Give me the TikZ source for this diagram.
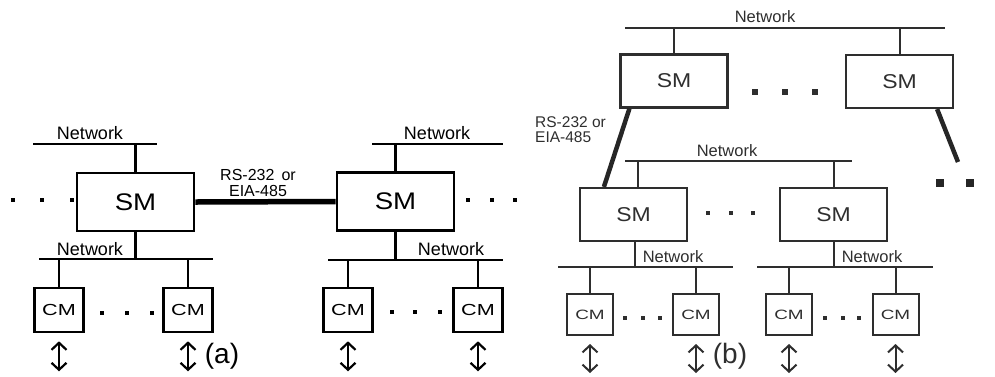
\documentclass[tikz,border=0pt]{standalone}
\usepackage{fontspec}
\setmainfont{Liberation Sans}
\usepackage{graphicx}
\usetikzlibrary{arrows.meta}
\definecolor{bgray}{gray}{0.18}
\tikzset{
  smbox/.style={draw, line width=2.6pt, minimum width=117pt, minimum height=58pt, inner sep=0pt},
  cmbox/.style={draw, line width=2.6pt, minimum width=49pt, minimum height=44pt, inner sep=0pt},
  smboxb/.style={draw=bgray, text=bgray, line width=2.2pt, minimum width=107pt, minimum height=53pt, inner sep=0pt},
  cmboxb/.style={draw=bgray, text=bgray, line width=2pt, minimum width=46pt, minimum height=41pt, inner sep=0pt},
  bus/.style={line width=2.2pt},
  busb/.style={line width=2pt, draw=bgray},
  link/.style={line width=2.4pt},
  linkb/.style={line width=2pt, draw=bgray},
  thick link/.style={line width=5.5pt},
  netlbl/.style={font=\fontsize{18}{18}\selectfont, inner sep=0pt},
  netlblb/.style={font=\fontsize{16.5}{16.5}\selectfont, text=bgray, inner sep=0pt},
  io/.style={line width=2.2pt, {Straight Barb[length=7pt,width=15pt]}-{Straight Barb[length=7pt,width=15pt]}},
  iob/.style={io, draw=bgray, line width=2pt},
  dota/.style={fill, minimum size=4.5pt, inner sep=0pt},
  dotb/.style={fill=bgray, minimum size=5.5pt, inner sep=0pt},
  dotc/.style={fill=bgray, minimum size=3.5pt, inner sep=0pt},
  dotbig/.style={fill=black!85, minimum size=8pt, inner sep=0pt},
}
\newcommand\smtxt{\scalebox{1.15}[1]{\fontsize{24}{24}\selectfont SM}}
\newcommand\smtxtb{\scalebox{1.15}[1]{\fontsize{20}{20}\selectfont SM}}
\newcommand\cmtxt{\scalebox{1.35}[1]{\fontsize{16}{16}\selectfont CM}}
\newcommand\cmtxtb{\scalebox{1.4}[1]{\fontsize{13.5}{13.5}\selectfont CM}}
\begin{document}
\begin{tikzpicture}[x=1pt,y=-1pt]
\useasboundingbox (0,0) rectangle (995,376);
% ================= (a) =================
\node[smbox] (sma1) at (135.5,202) {\smtxt};
\node[smbox] (sma2) at (395.5,201.5) {\smtxt};
% top buses
\coordinate (ta1l) at (33,144); \coordinate (ta1r) at (157,144);
\draw[bus] (ta1l) -- (ta1r);
\node[netlbl] (lta1) at (90,133) {Network};
\draw[link] (sma1.north) -- (sma1.north |- ta1l);
\coordinate (ta2l) at (372,144); \coordinate (ta2r) at (503,144);
\draw[bus] (ta2l) -- (ta2r);
\node[netlbl] (lta2) at (437,133) {Network};
\draw[link] (sma2.north) -- (sma2.north |- ta2l);
% serial link
\draw[thick link] (sma1.east) -- (sma2.west);
\node[font=\fontsize{16}{16}\selectfont, align=center, inner sep=0pt] (rsa) at (258,183) {RS-232\, or\\EIA-485};
% lower buses
\coordinate (ba1l) at (39,259); \coordinate (ba1r) at (213,259);
\draw[bus] (ba1l) -- (ba1r);
\node[netlbl] (lba1) at (90,249) {Network};
\draw[link] (sma1.south) -- (sma1.south |- ba1l);
\coordinate (ba2l) at (328,260); \coordinate (ba2r) at (503,260);
\draw[bus] (ba2l) -- (ba2r);
\node[netlbl] (lba2) at (451,249) {Network};
\draw[link] (sma2.south) -- (sma2.south |- ba2l);
% CMs
\node[cmbox] (cma1) at (59,310) {\cmtxt};
\node[cmbox] (cma2) at (188,310) {\cmtxt};
\node[cmbox] (cma3) at (348,310) {\cmtxt};
\node[cmbox] (cma4) at (478,310) {\cmtxt};
\foreach \c/\b in {cma1/ba1l, cma2/ba1l, cma3/ba2l, cma4/ba2l}
  \draw[link] (\c.north) -- (\c.north |- \b);
% io arrows
\foreach \c [count=\i] in {cma1,cma2,cma3,cma4} {
  \coordinate (ioa\i t) at ([yshift=-8pt]\c.south);
  \coordinate (ioa\i b) at ([yshift=-38pt]\c.south);
  \draw[io] (ioa\i t) -- (ioa\i b);
}
% dots
\foreach \x/\y [count=\i] in {13/200,42/200,72/200,468/200,492/200,515/200,102/313,127/313,152/313,392/312,415/312,440/312}
  \node[dota] (da\i) at (\x,\y) {};
\node[font=\fontsize{28}{28}\selectfont, inner sep=0pt] (capa) at (222,356) {(a)};
% ================= (b) =================
\coordinate (tbl) at (625,28); \coordinate (tbr) at (945,28);
\draw[busb] (tbl) -- (tbr);
\node[netlblb] (ltb) at (765,17) {Network};
\node[smboxb] (smb1) at (674,81) {\smtxtb};
\node[smboxb] (smb2) at (899.5,81.5) {\smtxtb};
\draw[linkb] (smb1.north) -- (smb1.north |- tbl);
\draw[linkb] (smb2.north) -- (smb2.north |- tbl);
\foreach \x [count=\i] in {755,785,815}
  \node[dotb] (db\i) at (\x,92) {};
% middle bus
\coordinate (mbl) at (625,161); \coordinate (mbr) at (852,161);
\draw[busb] (mbl) -- (mbr);
\node[netlblb] (lmb) at (727,151) {Network};
\node[smboxb] (smb3) at (633.5,214.5) {\smtxtb};
\node[smboxb] (smb4) at (833.5,214.5) {\smtxtb};
\draw[linkb] ([xshift=4.5pt]smb3.north) -- ([xshift=4.5pt]smb3.north |- mbl);
\draw[linkb] (smb4.north) -- (smb4.north |- mbl);
\foreach \x [count=\i] in {708,731,753}
  \node[dotc] (dm\i) at (\x,213) {};
% serial links
\draw[thick link, draw=black!85, line width=4.5pt] ([xshift=10pt]smb1.south west) -- ([xshift=25pt]smb3.north west);
\node[font=\fontsize{15.5}{15}\selectfont, text=bgray, align=left, anchor=west, inner sep=0pt] (rsb) at (535,130) {RS-232 or\\EIA-485};
\coordinate (rend) at (958,162);
\draw[thick link, draw=black!85, line width=4.5pt] ([xshift=-17pt]smb2.south east) -- (rend);
\foreach \x [count=\i] in {940,970,999}
  \node[dotbig] (dr\i) at (\x,183) {};
% bottom buses
\coordinate (bb1l) at (558,267); \coordinate (bb1r) at (733,267);
\draw[busb] (bb1l) -- (bb1r);
\node[netlblb] (lbb1) at (673,257) {Network};
\draw[linkb] ([xshift=1.5pt]smb3.south) -- ([xshift=1.5pt]smb3.south |- bb1l);
\coordinate (bb2l) at (757,267); \coordinate (bb2r) at (933,267);
\draw[busb] (bb2l) -- (bb2r);
\node[netlblb] (lbb2) at (872,257) {Network};
\draw[linkb] (smb4.south) -- (smb4.south |- bb2l);
% CMs
\node[cmboxb] (cmb1) at (590,314.5) {\cmtxtb};
\node[cmboxb] (cmb2) at (696,314.5) {\cmtxtb};
\node[cmboxb] (cmb3) at (789,314.5) {\cmtxtb};
\node[cmboxb] (cmb4) at (895.5,314.5) {\cmtxtb};
\foreach \c/\b in {cmb1/bb1l, cmb2/bb1l, cmb3/bb2l, cmb4/bb2l}
  \draw[linkb] (\c.north) -- (\c.north |- \b);
\foreach \c [count=\i] in {cmb1,cmb2,cmb3,cmb4} {
  \coordinate (iob\i t) at ([yshift=-8pt]\c.south);
  \coordinate (iob\i b) at ([yshift=-37pt]\c.south);
  \draw[iob] (iob\i t) -- (iob\i b);
}
\foreach \x [count=\i] in {625,643,660,825,843,859}
  \node[dotc] (dc\i) at (\x,318) {};
\node[font=\fontsize{28}{28}\selectfont, text=bgray, inner sep=0pt] (capb) at (730,356) {(b)};
\end{tikzpicture}
\end{document}
